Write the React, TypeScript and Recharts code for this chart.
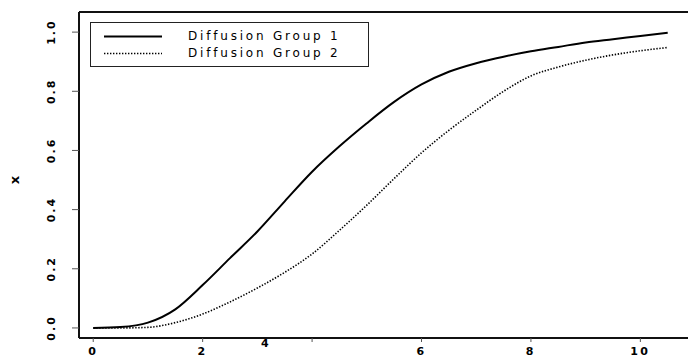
import { Legend, Line, LineChart, ReferenceLine, XAxis, YAxis } from "recharts"

const times = [0, 0.5, 1, 1.5, 2, 2.5, 3, 3.5, 4, 4.5, 5, 5.5, 6, 6.5, 7, 7.5, 8, 8.5, 9, 9.5, 10, 10.5]
const group1 = [0, 0.003, 0.018, 0.063, 0.145, 0.236, 0.326, 0.428, 0.528, 0.614, 0.692, 0.764, 0.823, 0.866, 0.895, 0.917, 0.935, 0.95, 0.965, 0.976, 0.987, 0.998]
const group2 = [0, 0, 0.002, 0.018, 0.047, 0.088, 0.135, 0.188, 0.25, 0.33, 0.415, 0.505, 0.592, 0.668, 0.736, 0.8, 0.852, 0.882, 0.905, 0.923, 0.937, 0.948]
const xTicks = [0, 2, 4, 6, 8, 10]
const yTicks = [0, 0.2, 0.4, 0.6, 0.8, 1.0]
const seriesNames = ["Diffusion Group 1", "Diffusion Group 2"]

const rows = times.map((t, i) => ({ t, g1: group1[i], g2: group2[i] }))

const FONT = "'DejaVu Sans', Verdana, sans-serif"
const DOTS = "1.4 1.6"
const X_DOMAIN = [-0.26, 11.09]
const Y_DOMAIN = [-0.034, 1.068]
const FRAME_COLOR = "#111"
const FRAME_WIDTH = 2

function XTick(props: any) {
  const { x, y, payload } = props
  // the "4" label sits off its tick in the original plot
  const odd = payload.value === 4
  return (
    <text
      x={odd ? x - 46 : x}
      y={odd ? y + 3 : y + 11}
      textAnchor="middle"
      fontFamily={FONT}
      fontWeight="bold"
      fontSize={11}
      letterSpacing={2.5}
      fill="#000"
    >
      {payload.value}
    </text>
  )
}

function YTick(props: any) {
  const { x, y, payload } = props
  const cx = x - 18
  return (
    <text
      x={cx}
      y={y}
      transform={`rotate(-90 ${cx} ${y})`}
      textAnchor="middle"
      dominantBaseline="central"
      fontFamily={FONT}
      fontWeight="bold"
      fontSize={11}
      letterSpacing={2}
      fill="#000"
    >
      {Number(payload.value).toFixed(1)}
    </text>
  )
}

function LegendBox() {
  return (
    <div
      style={{
        border: "1px solid #222",
        width: 277,
        height: 43,
        boxSizing: "content-box",
        background: "#fff",
        fontFamily: FONT,
        fontSize: 12,
        letterSpacing: 2.8,
        color: "#000",
      }}
    >
      {seriesNames.map((name, i) => (
        <div key={name} style={{ display: "flex", alignItems: "center", height: 17, marginTop: i === 0 ? 5 : 0 }}>
          <svg width={97} height={17} style={{ flex: "none" }}>
            <line
              x1={13}
              x2={71}
              y1={8.5}
              y2={8.5}
              stroke="#000"
              strokeWidth={i === 0 ? 2 : 1.6}
              strokeDasharray={i === 0 ? undefined : DOTS}
            />
          </svg>
          <span style={{ whiteSpace: "nowrap", lineHeight: "17px" }}>{name}</span>
        </div>
      ))}
    </div>
  )
}

export default function App() {
  return (
    <div style={{ position: "absolute", left: 0, top: 0, width: 688, height: 358, overflow: "hidden", background: "#fff" }}>
      <LineChart width={705} height={358} data={rows} margin={{ top: 12, right: 5, bottom: 0, left: 0 }}>
        <XAxis
          dataKey="t"
          type="number"
          domain={X_DOMAIN}
          allowDataOverflow
          ticks={xTicks}
          interval={0}
          height={20}
          tickSize={4}
          tickMargin={2}
          axisLine={{ stroke: FRAME_COLOR, strokeWidth: FRAME_WIDTH }}
          tickLine={{ stroke: "#555" }}
          tick={<XTick />}
        />
        <YAxis
          type="number"
          domain={Y_DOMAIN}
          allowDataOverflow
          ticks={yTicks}
          interval={0}
          width={79}
          tickSize={7}
          tickMargin={2}
          axisLine={{ stroke: FRAME_COLOR, strokeWidth: FRAME_WIDTH }}
          tickLine={{ stroke: "#555" }}
          tick={<YTick />}
          label={{
            value: "x",
            content: ({ viewBox }: any) => {
              const cx = 14
              const cy = viewBox.y + viewBox.height / 2 + 5
              return (
                <text
                  x={cx}
                  y={cy}
                  transform={`rotate(-90 ${cx} ${cy})`}
                  textAnchor="middle"
                  dominantBaseline="central"
                  fontFamily={FONT}
                  fontWeight="bold"
                  fontSize={13}
                  fill="#000"
                >
                  x
                </text>
              )
            },
          }}
        />
        {/* top edge of the plot frame */}
        <ReferenceLine y={Y_DOMAIN[1]} stroke={FRAME_COLOR} strokeWidth={FRAME_WIDTH} ifOverflow="visible" />
        <Line
          type="monotone"
          dataKey="g1"
          name={seriesNames[0]}
          stroke="#000"
          strokeWidth={2}
          dot={false}
          isAnimationActive={false}
        />
        <Line
          type="monotone"
          dataKey="g2"
          name={seriesNames[1]}
          stroke="#000"
          strokeWidth={1.6}
          strokeDasharray={DOTS}
          dot={false}
          isAnimationActive={false}
        />
        <Legend
          layout="vertical"
          align="center"
          verticalAlign="middle"
          content={<LegendBox />}
          wrapperStyle={{ position: "absolute", left: 90, top: 22, width: 279, height: 45 }}
        />
      </LineChart>
    </div>
  )
}
